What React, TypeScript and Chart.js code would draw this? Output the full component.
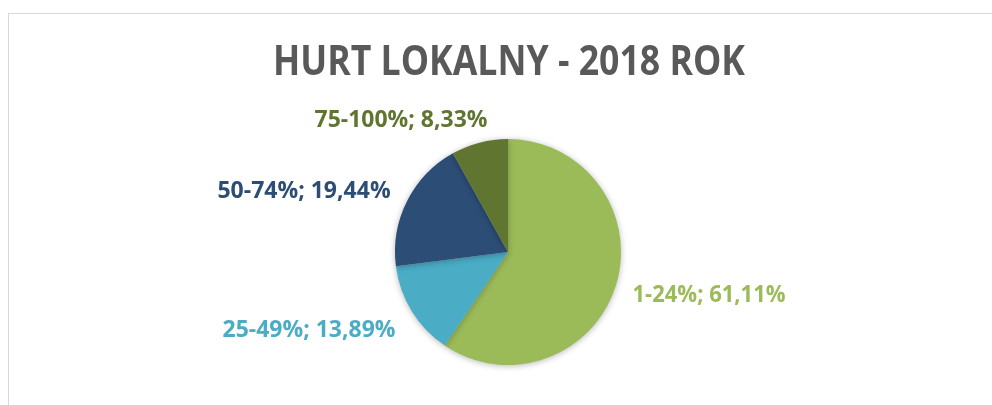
import React, { useEffect, useRef } from "react";
import { Chart, registerables } from "chart.js";

Chart.register(...registerables);

const TITLE = "HURT LOKALNY - 2018 ROK";
const categories = ["1-24%", "25-49%", "50-74%", "75-100%"];
const shares = [61.11, 13.89, 19.44, 8.33];
const colors = ["#9BBB59", "#4BACC6", "#2C4D75", "#5F7530"];

// label placement relative to pie center, in units of pie radius (x center, baseline y)
const LABEL_POS = [
  [1.779, 0.442],
  [-1.761, 0.752],
  [-1.805, -0.478],
  [-0.947, -1.106],
];
const LABEL_MAXW = [153, 173, 175, 173];

const fmt = (v: number) => v.toFixed(2).replace(".", ",");

const FONT = '"Open Sans", "DejaVu Sans", sans-serif';

const decorPlugin = {
  id: "decor",
  beforeDatasetsDraw(chart: any) {
    const ctx = chart.ctx;
    ctx.save();
    ctx.shadowColor = "rgba(0,0,0,0.28)";
    ctx.shadowBlur = 6;
    ctx.shadowOffsetX = 0;
    ctx.shadowOffsetY = 1;
  },
  afterDatasetsDraw(chart: any) {
    const ctx = chart.ctx;
    ctx.restore();
    const meta = chart.getDatasetMeta(0);
    const arc0 = meta.data[0];
    const cx = arc0.x;
    const cy = arc0.y;
    const r = arc0.outerRadius;
    ctx.save();
    // title
    ctx.fillStyle = "#595959";
    ctx.font = `bold 42px ${FONT}`;
    ctx.textAlign = "center";
    ctx.textBaseline = "alphabetic";
    ctx.fillText(TITLE, cx + 1, 61, 472);
    // data labels
    ctx.font = `bold 23px ${FONT}`;
    meta.data.forEach((_a: any, i: number) => {
      const [fx, fy] = LABEL_POS[i];
      ctx.fillStyle = colors[i];
      const text = `${categories[i]}; ${fmt(shares[i])}%`;
      ctx.fillText(text, cx + fx * r, cy + fy * r, LABEL_MAXW[i]);
    });
    ctx.restore();
  },
};

export default function App() {
  const ref = useRef<HTMLCanvasElement>(null);
  useEffect(() => {
    if (!ref.current) return;
    const chart = new Chart(ref.current, {
      type: "pie",
      data: {
        labels: categories,
        datasets: [
          {
            data: shares,
            backgroundColor: colors,
            borderWidth: 0,
          },
        ],
      },
      options: {
        responsive: false,
        animation: false,
        layout: { padding: { top: 125, bottom: 40, left: 15, right: 0 } },
        plugins: {
          legend: { display: false },
          title: { display: false },
          tooltip: { enabled: false },
        },
      },
      plugins: [decorPlugin],
    });
    return () => chart.destroy();
  }, []);
  return (
    <div
      style={{
        position: "fixed",
        left: 8,
        top: 13,
        width: 984,
        height: 392,
        boxSizing: "border-box",
        borderTop: "1px solid #d9d9d9",
        borderLeft: "1px solid #d9d9d9",
        background: "#fff",
      }}
    >
      <canvas ref={ref} width={983} height={391} style={{ display: "block", width: 983, height: 391 }} />
    </div>
  );
}
